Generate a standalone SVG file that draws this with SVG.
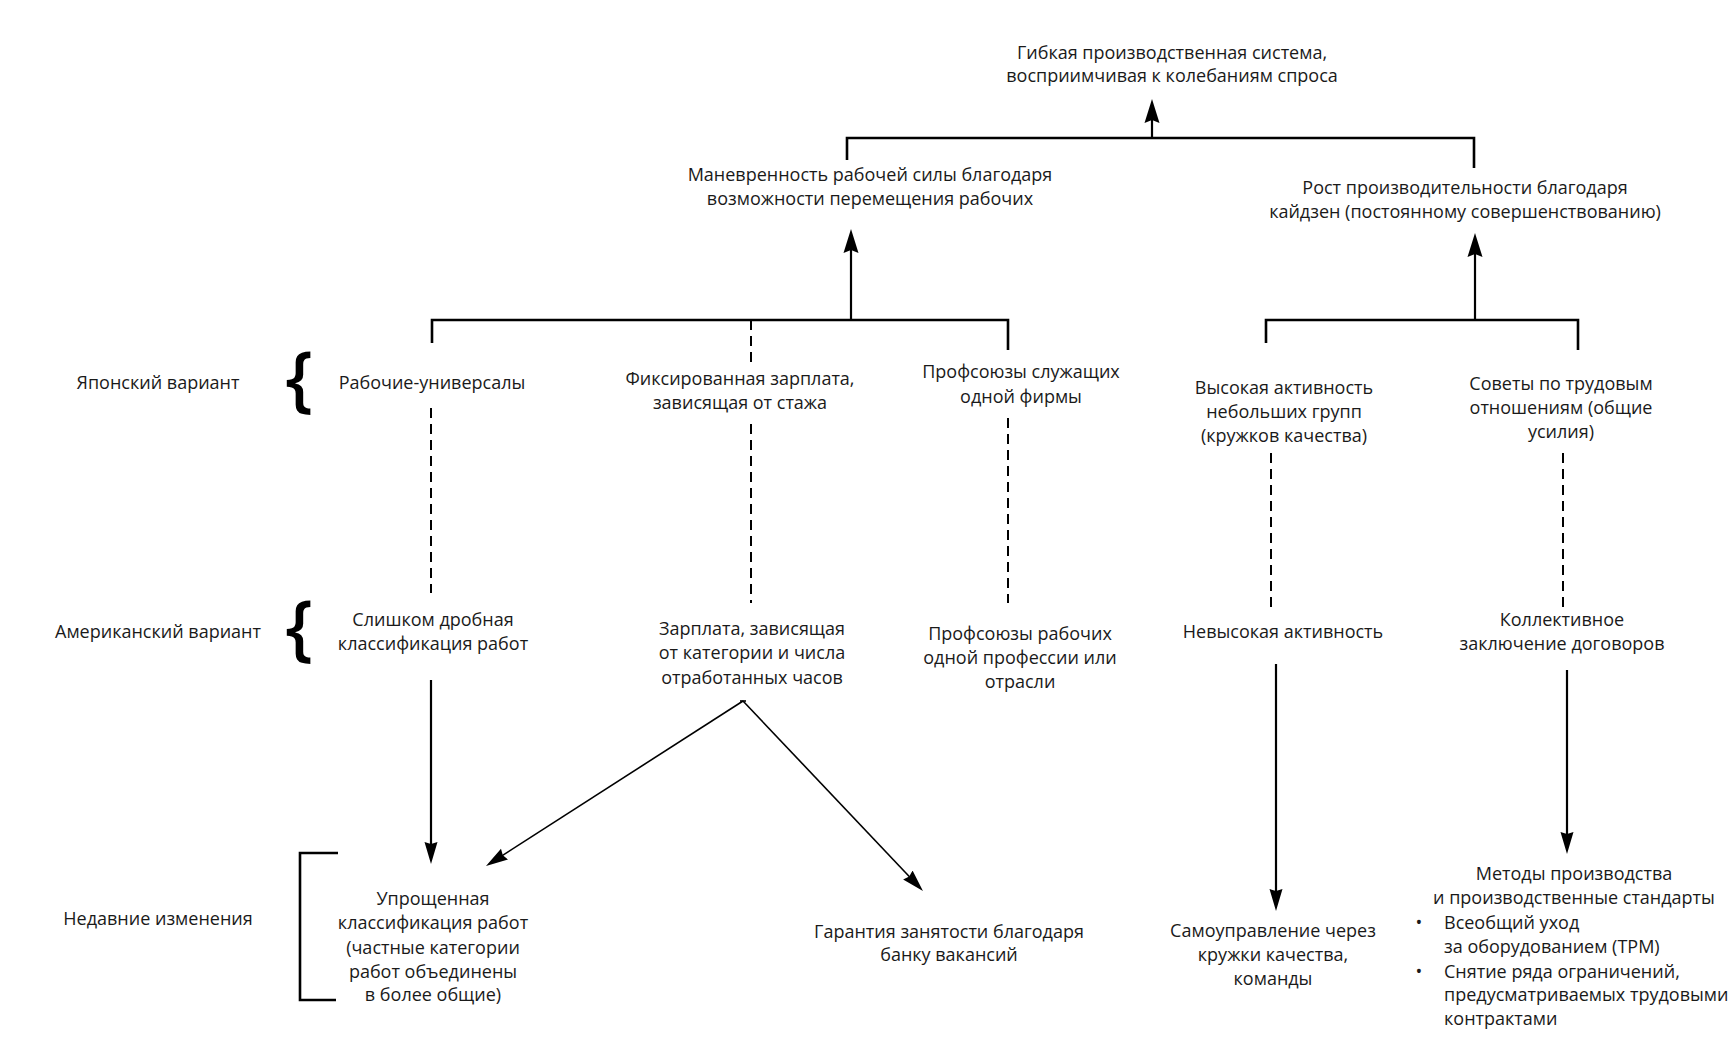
<svg xmlns="http://www.w3.org/2000/svg" width="1736" height="1041" viewBox="0 0 1736 1041">
<style>
text{font-family:"Open Sans","Noto Sans","DejaVu Sans",sans-serif;font-size:18px;fill:#1a1a1a;text-anchor:middle}
.l{text-anchor:start}
.br{font-size:72px;font-weight:600;fill:#000}
.sol{fill:none;stroke:#000;stroke-width:2.6}
.ar{fill:none;stroke:#000;stroke-width:2.2}
.thin{fill:none;stroke:#000;stroke-width:1.6}
.dash{fill:none;stroke:#000;stroke-width:2;stroke-dasharray:10 6}
</style>
<defs>
<marker id="big" markerUnits="userSpaceOnUse" viewBox="0 0 24 16" markerWidth="24" markerHeight="16" refX="14" refY="8" orient="auto">
<path d="M0,0.5 L24,8 L0,15.5 L3,8 z" fill="#000"/>
</marker>
<marker id="med" markerUnits="userSpaceOnUse" viewBox="0 0 22 14" markerWidth="22" markerHeight="14" refX="12" refY="7" orient="auto">
<path d="M0,0.5 L22,7 L0,13.5 L2,7 z" fill="#000"/>
</marker>
</defs>
<g id="connectors">
<path class="sol" d="M847 160 V138 H1474 V168"/>
<path class="ar" d="M1152 138 V109" marker-end="url(#big)"/>
<path class="sol" d="M432 343 V320 H1008 V350"/>
<path class="ar" d="M851 320 V239" marker-end="url(#big)"/>
<path class="sol" d="M1266 343 V320 H1578 V350"/>
<path class="ar" d="M1475 320 V243" marker-end="url(#big)"/>
<path class="dash" d="M751 320 V364"/>
<path class="dash" d="M751 424 V603"/>
<path class="dash" d="M431 408 V593"/>
<path class="dash" d="M1008 418 V603"/>
<path class="dash" d="M1271 453 V607"/>
<path class="dash" d="M1563 453 V607"/>
<path class="ar" d="M431 680 V854" marker-end="url(#med)"/>
<path class="thin" d="M740 701 H746"/>
<path class="thin" d="M743 701 L494.4 860.6" marker-end="url(#med)"/>
<path class="thin" d="M743 701 L916.1 883.7" marker-end="url(#med)"/>
<path class="ar" d="M1276 664 V901" marker-end="url(#med)"/>
<path class="ar" d="M1567 670 V844" marker-end="url(#med)"/>
<path class="sol" d="M338 853 H300 V1000 H336"/>
</g>
<g id="labels">
<text x="158" y="389">Японский вариант</text>
<text class="br" x="299" y="404">{</text>
<text x="158" y="638">Американский вариант</text>
<text class="br" x="299" y="653">{</text>
<text x="158" y="925">Недавние изменения</text>
</g>
<g id="n-top"><text x="1172" y="59">Гибкая производственная система,</text><text x="1172" y="82">восприимчивая к колебаниям спроса</text></g>
<g id="n-mobility"><text x="870" y="181">Маневренность рабочей силы благодаря</text><text x="870" y="205">возможности перемещения рабочих</text></g>
<g id="n-kaizen"><text x="1465" y="194">Рост производительности благодаря</text><text x="1465" y="218">кайдзен (постоянному совершенствованию)</text></g>
<g id="n-jp1"><text x="432" y="389">Рабочие-универсалы</text></g>
<g id="n-jp2"><text x="740" y="385">Фиксированная зарплата,</text><text x="740" y="409">зависящая от стажа</text></g>
<g id="n-jp3"><text x="1021" y="378">Профсоюзы служащих</text><text x="1021" y="403">одной фирмы</text></g>
<g id="n-jp4"><text x="1284" y="394">Высокая активность</text><text x="1284" y="418">небольших групп</text><text x="1284" y="442">(кружков качества)</text></g>
<g id="n-jp5"><text x="1561" y="390">Советы по трудовым</text><text x="1561" y="414">отношениям (общие</text><text x="1561" y="438">усилия)</text></g>
<g id="n-us1"><text x="433" y="626">Слишком дробная</text><text x="433" y="650">классификация работ</text></g>
<g id="n-us2"><text x="752" y="635">Зарплата, зависящая</text><text x="752" y="659">от категории и числа</text><text x="752" y="684">отработанных часов</text></g>
<g id="n-us3"><text x="1020" y="640">Профсоюзы рабочих</text><text x="1020" y="664">одной профессии или</text><text x="1020" y="688">отрасли</text></g>
<g id="n-us4"><text x="1283" y="638">Невысокая активность</text></g>
<g id="n-us5"><text x="1562" y="626">Коллективное</text><text x="1562" y="650">заключение договоров</text></g>
<g id="n-new1"><text x="433" y="905">Упрощенная</text><text x="433" y="929">классификация работ</text><text x="433" y="954">(частные категории</text><text x="433" y="978">работ объединены</text><text x="433" y="1001">в более общие)</text></g>
<g id="n-new2"><text x="949" y="938">Гарантия занятости благодаря</text><text x="949" y="961">банку вакансий</text></g>
<g id="n-new3"><text x="1273" y="937">Самоуправление через</text><text x="1273" y="961">кружки качества,</text><text x="1273" y="985">команды</text></g>
<g id="n-new4"><text x="1574" y="880">Методы производства</text><text x="1574" y="904">и производственные стандарты</text>
<text x="1419" y="929">•</text><text class="l" x="1444" y="929">Всеобщий уход</text><text class="l" x="1444" y="953">за оборудованием (TPM)</text>
<text x="1419" y="978">•</text><text class="l" x="1444" y="978">Снятие ряда ограничений,</text><text class="l" x="1444" y="1001">предусматриваемых трудовыми</text><text class="l" x="1444" y="1025">контрактами</text></g>
</svg>
